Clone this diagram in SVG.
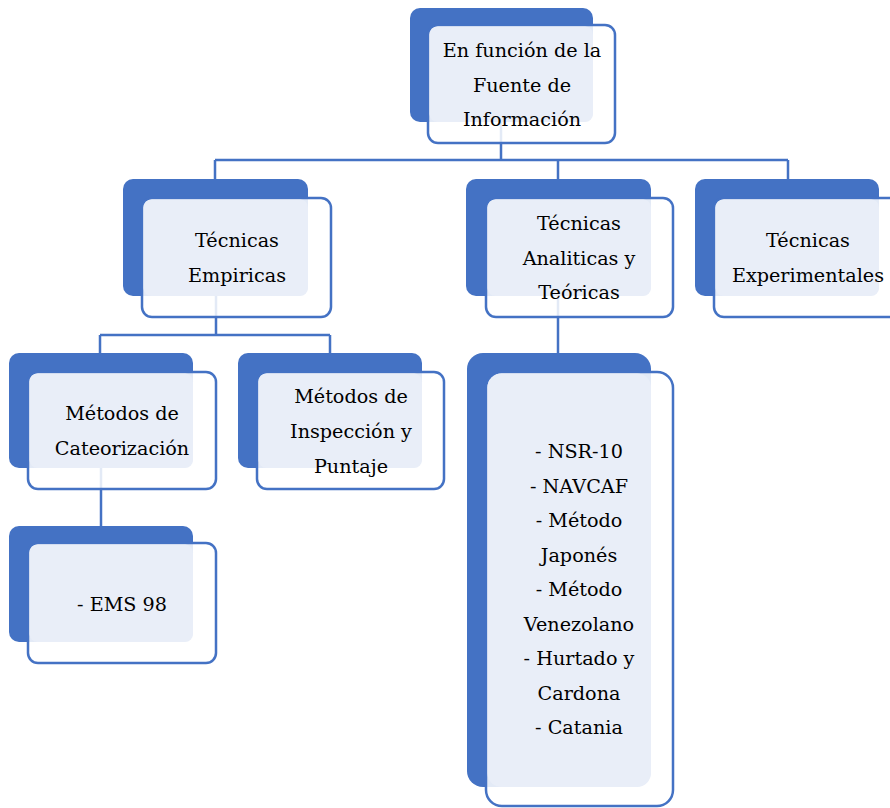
<svg xmlns="http://www.w3.org/2000/svg" width="890" height="808" viewBox="0 0 890 808">
<style>
.bk{fill:#4472C4}
.fr{fill:#FFFFFF;fill-opacity:0.85;stroke:#4472C4;stroke-width:2.5}
.ov{fill:#E9EEF8}
.cn{stroke:#4472C4;stroke-width:2.5;fill:none}
</style>
<rect width="890" height="808" fill="#FFFFFF"/>
<g id="connectors">
<path class="cn" d="M501,122 V160 M215,160 H788 M215,160 V180 M558,160 V180 M788,160 V180"/>
<path class="cn" d="M216,296 V335 M100,335 H330 M100,335 V353 M330,335 V353"/>
<path class="cn" d="M558,296 V353"/>
<path class="cn" d="M101,468 V527"/>
</g>
<g font-family="DejaVu Serif, Liberation Serif, serif" font-size="19.2" fill="#000000" text-anchor="middle">
<g id="n-fuente">
<rect class="bk" x="410" y="8" width="183" height="114" rx="10"/>
<rect class="fr" x="428" y="25" width="187" height="118" rx="10"/>
<rect class="ov" x="429.5" y="26.5" width="163.5" height="95.5" rx="8"/>
<text x="522" y="57">En función de la</text>
<text x="522" y="91.5">Fuente de</text>
<text x="522" y="126">Información</text>
</g>
<g id="n-empiricas">
<rect class="bk" x="123" y="179" width="185" height="117" rx="10"/>
<rect class="fr" x="142" y="198" width="189" height="119" rx="10"/>
<rect class="ov" x="143.5" y="199.5" width="164.5" height="96.5" rx="8"/>
<text x="237" y="247">Técnicas</text>
<text x="237" y="281.5">Empiricas</text>
</g>
<g id="n-analiticas">
<rect class="bk" x="466" y="179" width="185" height="117" rx="10"/>
<rect class="fr" x="486" y="198" width="187" height="119" rx="10"/>
<rect class="ov" x="487.5" y="199.5" width="163.5" height="96.5" rx="8"/>
<text x="579" y="230">Técnicas</text>
<text x="579" y="264.5">Analiticas y</text>
<text x="579" y="299">Teóricas</text>
</g>
<g id="n-experimentales">
<rect class="bk" x="695" y="179" width="184" height="117" rx="10"/>
<rect class="fr" x="714" y="198" width="188" height="119" rx="10"/>
<rect class="ov" x="715.5" y="199.5" width="163.5" height="96.5" rx="8"/>
<text x="808" y="247">Técnicas</text>
<text x="808" y="282">Experimentales</text>
</g>
<g id="n-cateorizacion">
<rect class="bk" x="9" y="353" width="184" height="115" rx="10"/>
<rect class="fr" x="28" y="372" width="188" height="117" rx="10"/>
<rect class="ov" x="29.5" y="373.5" width="163.5" height="94.5" rx="8"/>
<text x="122" y="420">Métodos de</text>
<text x="122" y="455">Cateorización</text>
</g>
<g id="n-inspeccion">
<rect class="bk" x="238" y="353" width="184" height="115" rx="10"/>
<rect class="fr" x="257" y="372" width="187" height="117" rx="10"/>
<rect class="ov" x="258.5" y="373.5" width="163.5" height="94.5" rx="8"/>
<text x="351" y="403">Métodos de</text>
<text x="351" y="438">Inspección y</text>
<text x="351" y="473">Puntaje</text>
</g>
<g id="n-ems">
<rect class="bk" x="9" y="526" width="184" height="116" rx="10"/>
<rect class="fr" x="28" y="543" width="188" height="120" rx="10"/>
<rect class="ov" x="29.5" y="544.5" width="163.5" height="97.5" rx="8"/>
<text x="122" y="611">- EMS 98</text>
</g>
<g id="n-analiticas-list">
<rect class="bk" x="467" y="353" width="184" height="434" rx="16"/>
<rect class="fr" x="486" y="372" width="187" height="434" rx="16"/>
<rect class="ov" x="487.5" y="373.5" width="163.5" height="413.5" rx="14"/>
<text x="579" y="458">- NSR-10</text>
<text x="579" y="492.5">- NAVCAF</text>
<text x="579" y="527">- Método</text>
<text x="579" y="561.5">Japonés</text>
<text x="579" y="596">- Método</text>
<text x="579" y="630.5">Venezolano</text>
<text x="579" y="665">- Hurtado y</text>
<text x="579" y="699.5">Cardona</text>
<text x="579" y="734">- Catania</text>
</g>
</g>
</svg>
